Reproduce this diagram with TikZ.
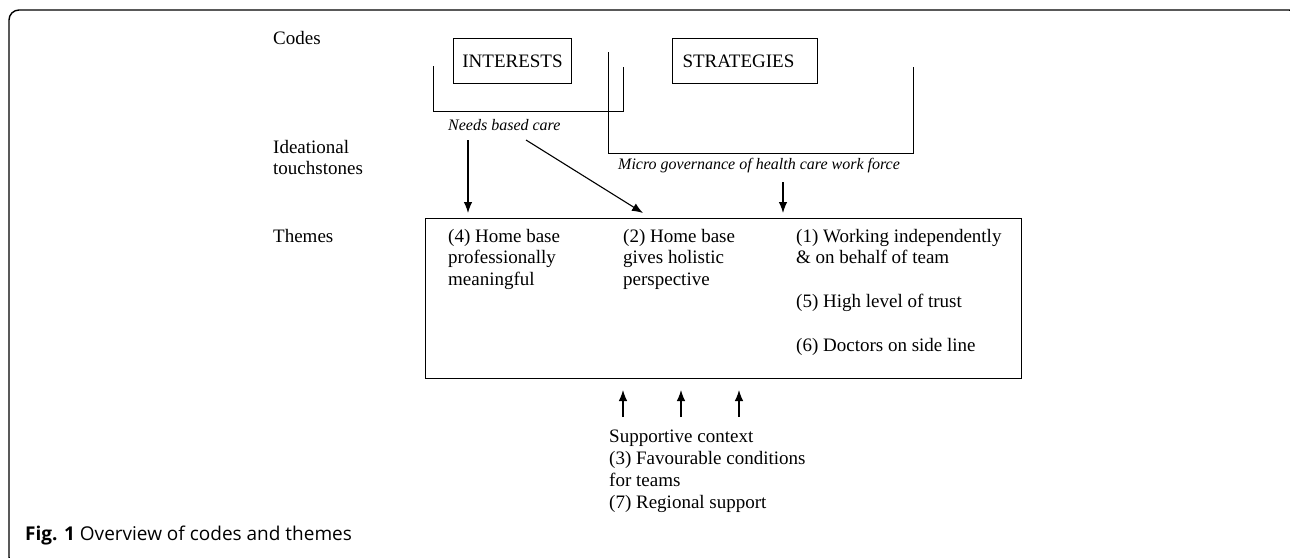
\documentclass[tikz,border=0pt]{standalone}
\usepackage{fontspec}
\setmainfont{Liberation Serif}
\newfontfamily\capfont{Open Sans}
\usetikzlibrary{arrows.meta}
\begin{document}
\begin{tikzpicture}[x=1pt,y=-1pt,
  txt/.style={font=\fontsize{19}{21.5}\selectfont, inner sep=0pt},
  itxt/.style={font=\fontsize{16}{19}\selectfont\itshape, inner sep=0pt},
  codebox/.style={draw, line width=1pt, font=\fontsize{19}{21.5}\selectfont, inner sep=0pt, anchor=north west},
  bracket/.style={line width=0.9pt},
  arr/.style={line width=1.1pt, -{Latex[length=11pt,width=8.5pt]}},
  frame/.style={line width=1.4pt, rounded corners=10pt}
]
\useasboundingbox (0,0) rectangle (1290,557);
\clip (0,0) rectangle (1290,557);
\draw[frame] (1299,40) -- (1299,10) -- (9,10) -- (9,567) -- (60,567);

% row labels
\node[txt, anchor=west] (codes) at (273,38) {Codes};
\node[txt, anchor=north west, align=left] (ideas) at (273,140) {Ideational\\touchstones};
\node[txt, anchor=west] (themeslbl) at (273,236) {Themes};

% code boxes
\node[codebox, minimum width=118pt, minimum height=45pt] (interests) at (453,38) {INTERESTS};
\node[codebox, minimum width=145pt, minimum height=45pt, text width=125pt, align=left] (strategies) at (672,38) {STRATEGIES};

% brackets
\draw[bracket] (433,66) -- (433,111) -- (623,111) -- (623,67);
\draw[bracket] (608,52) -- (608,153) -- (913,153) -- (913,67);

% touchstones
\node[itxt, anchor=west] (needs) at (448,125) {Needs based care};
\node[itxt, anchor=west] (micro) at (618,166) {Micro governance of health care work force};

% themes box
\node[draw, line width=1pt, minimum width=596pt, minimum height=160pt, anchor=north west, inner sep=0pt] (themes) at (425,218) {};
\node[txt, anchor=north west, align=left] (t4) at (448,229) {(4) Home base\\professionally\\meaningful};
\node[txt, anchor=north west, align=left] (t2) at (623,229) {(2) Home base\\gives holistic\\perspective};
\node[txt, anchor=north west, align=left] (t1) at (796,229) {(1) Working independently\\\& on behalf of team};
\node[txt, anchor=west] (t5) at (796,303) {(5) High level of trust};
\node[txt, anchor=west] (t6) at (796,347) {(6) Doctors on side line};

% arrows from touchstones
\coordinate (a1) at (468,140);
\coordinate (a2) at (526,140);
\coordinate (a2e) at (643,213);
\coordinate (a3) at (783,182);
\draw[arr, shorten >=5pt] (a1) -- (a1 |- themes.north);
\draw[arr] (a2) -- (a2e);
\draw[arr, shorten >=5pt] (a3) -- (a3 |- themes.north);

% supportive context
\node[txt, anchor=north west, align=left, font=\fontsize{19}{22}\selectfont] (supp) at (609,430) {Supportive context\\(3) Favourable conditions\\for teams\\(7) Regional support};
\coordinate (u1) at (623,417);
\coordinate (u2) at (681,417);
\coordinate (u3) at (739,417);
\draw[arr, shorten >=11pt] (u1) -- (u1 |- themes.south);
\draw[arr, shorten >=11pt] (u2) -- (u2 |- themes.south);
\draw[arr, shorten >=11pt] (u3) -- (u3 |- themes.south);

% caption
\node[anchor=west, inner sep=0pt, font=\capfont\fontsize{19}{22}\selectfont] (caption) at (25,536) {\textbf{Fig. 1} Overview of codes and themes};
\end{tikzpicture}
\end{document}
